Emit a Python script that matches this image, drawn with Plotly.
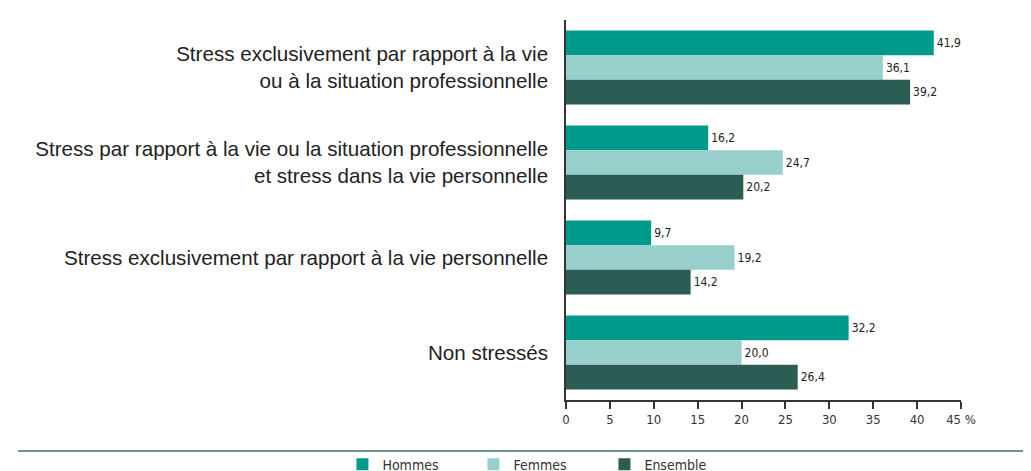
import plotly.graph_objects as go

categories = [
    "Stress exclusivement par rapport à la vie<br>ou à la situation professionnelle",
    "Stress par rapport à la vie ou la situation professionnelle<br>et stress dans la vie personnelle",
    "Stress exclusivement par rapport à la vie personnelle",
    "Non stressés",
]
hommes = [41.9, 16.2, 9.7, 32.2]
femmes = [36.1, 24.7, 19.2, 20.0]
ensemble = [39.2, 20.2, 14.2, 26.4]

series = [("Hommes", hommes, "#009a8c"),
          ("Femmes", femmes, "#96cfcb"),
          ("Ensemble", ensemble, "#2b5d55")]

tick_vals = [0, 5, 10, 15, 20, 25, 30, 35, 40, 45]
tick_text = ["0", "5", "10", "15", "20", "25", "30", "35", "40", "45 %"]

NARROW = "Liberation Sans Narrow, DejaVu Sans Condensed, Arial Narrow, sans-serif"
SANS = "Liberation Sans, Arial, sans-serif"

fig = go.Figure()
for name, vals, color in series:
    fig.add_trace(go.Bar(
        y=categories, x=vals, name=name, orientation="h",
        marker=dict(color=color, line=dict(width=0)),
        text=[f"{v:.1f}".replace(".", ",") for v in vals],
        textposition="outside", cliponaxis=False,
        textfont=dict(family=NARROW, size=12, color="#222"),
    ))

fig.update_layout(
    width=1031, height=471,
    margin=dict(l=558, r=78, t=12, b=79, autoexpand=False),
    paper_bgcolor="white", plot_bgcolor="white",
    barmode="group", bargap=0.22, bargroupgap=0,
    showlegend=True,
    legend=dict(orientation="h", xref="paper", yref="paper",
                x=-0.566, y=-0.17, xanchor="left", yanchor="middle",
                bgcolor="rgba(0,0,0,0)",
                font=dict(family=NARROW, size=14, color="#333"),
                entrywidth=86, itemwidth=30, tracegroupgap=0),
    font=dict(family=SANS, color="#222"),
    shapes=[dict(type="line", xref="paper", yref="paper",
                 x0=-1.387, x1=1.2, y0=-0.134, y1=-0.134,
                 line=dict(color="#6b958c", width=2))],
)
fig.update_xaxes(range=[0, 45], tickvals=tick_vals, ticktext=tick_text,
                 showgrid=False, zeroline=False,
                 showline=True, linecolor="#333", linewidth=1.5,
                 ticks="outside", ticklen=7, tickcolor="#333", tickwidth=1.5,
                 tickfont=dict(family=NARROW, size=13, color="#333"))
fig.update_yaxes(autorange="reversed", showgrid=False, zeroline=False,
                 showline=True, linecolor="#333", linewidth=1.5,
                 ticks="", ticklabelstandoff=12,
                 tickfont=dict(family=SANS, size=20.6, color="#222"))

fig.write_html("out.html")
